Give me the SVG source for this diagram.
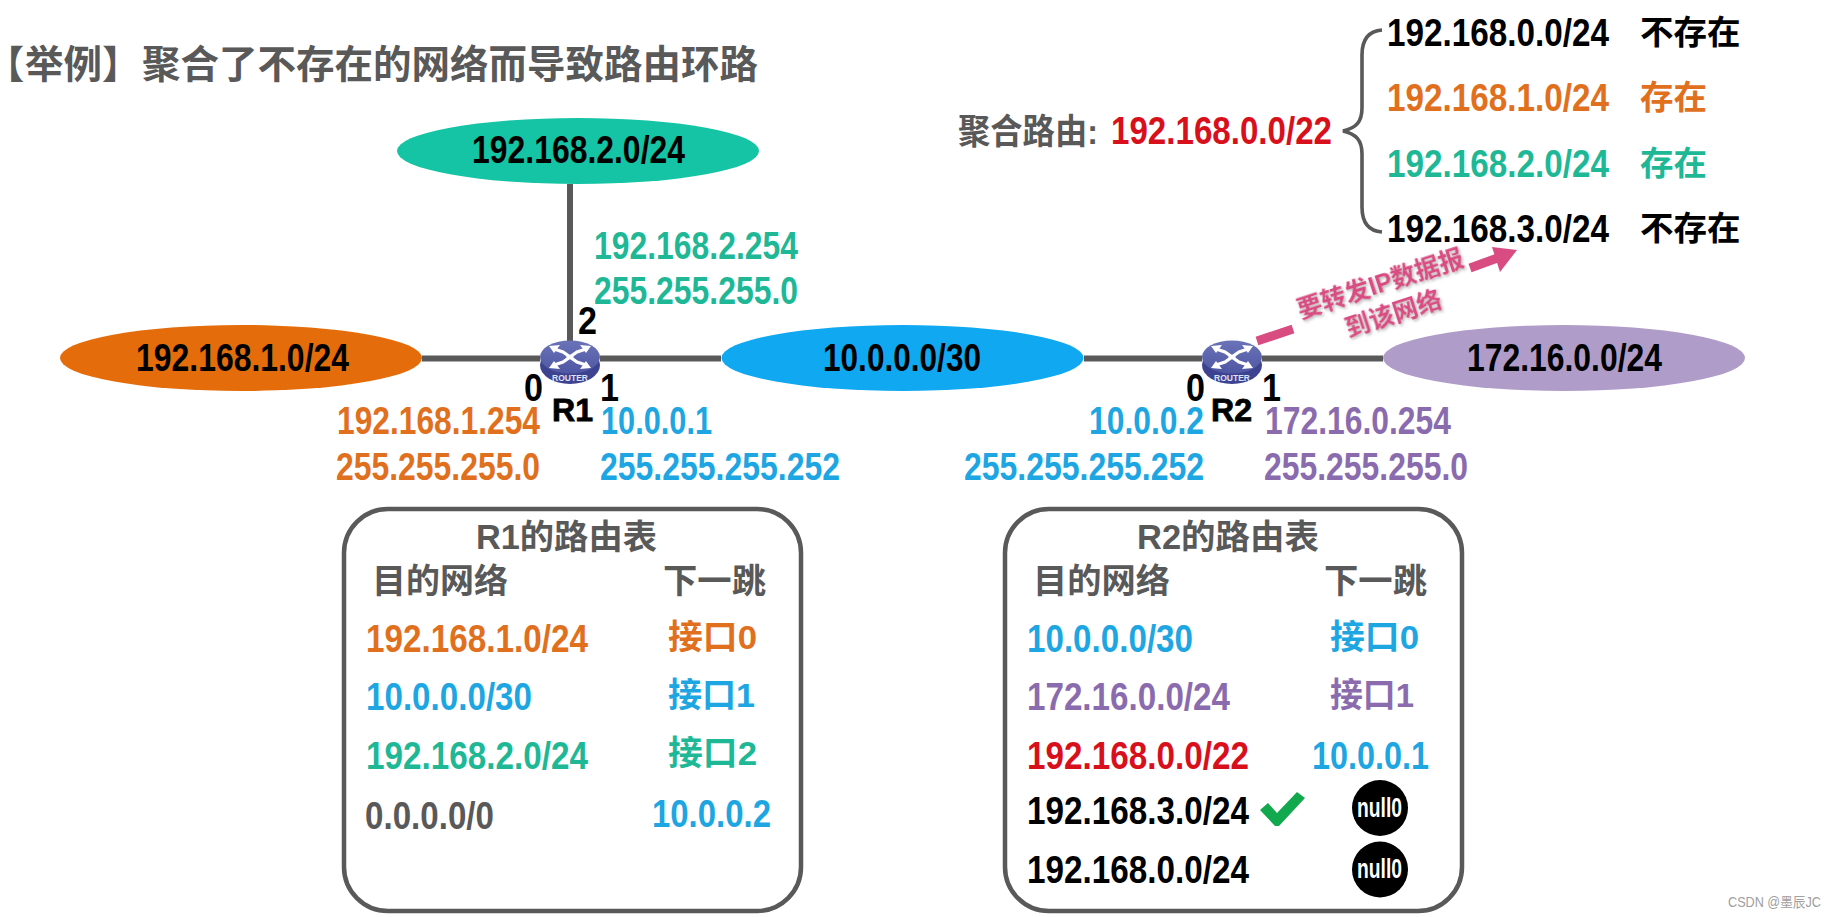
<svg xmlns="http://www.w3.org/2000/svg" width="1837" height="917" viewBox="0 0 1837 917">
<style>
text{font-family:"Liberation Sans","Noto Sans CJK SC",sans-serif;font-weight:700}
.ip{font-size:38.5px}
.cjk{font-size:33.5px}
.tt{font-size:34px}
.port{font-size:39px;fill:#000}
.rn{font-size:31px;fill:#000;stroke:#000;stroke-width:.8}
.k{fill:#000}.g{fill:#595959}.o{fill:#e0701e}.b{fill:#1ea6e2}.t{fill:#1fb896}.p{fill:#8a6cae}.r{fill:#d8101c}
.link{stroke:#595959;stroke-width:6;fill:none}
.box{fill:#fff;stroke:#595959;stroke-width:4.5}
.nul{fill:#fff;font-size:27px}
.arr{stroke:#fff;stroke-width:3.2;fill:none}
.pink{fill:#d94c82;font-size:25px;filter:url(#sh)}
</style>
<defs>
<linearGradient id="rg" x1="0" y1="0" x2="0" y2="1"><stop offset="0" stop-color="#6a72b8"/><stop offset="1" stop-color="#4f57a3"/></linearGradient>
<filter id="sh" x="-10%" y="-20%" width="120%" height="150%"><feDropShadow dx="1" dy="2" stdDeviation="1.5" flood-color="#999" flood-opacity=".7"/></filter>
<g id="arrowhead"><polygon points="-21,-11 -10,-12 -16,-4" fill="#fff"/><path class="arr" d="M-16,-8 L-7,-5 L3,2"/></g>
<g id="router">
<ellipse cx="0" cy="8" rx="30" ry="19" fill="#3d4390"/>
<ellipse cx="0" cy="0" rx="30" ry="16.5" fill="url(#rg)"/>
<use href="#arrowhead"/>
<use href="#arrowhead" transform="scale(-1,1)"/>
<use href="#arrowhead" transform="scale(1,-1)"/>
<use href="#arrowhead" transform="scale(-1,-1)"/>
<text x="0" y="24" text-anchor="middle" fill="#dfe2f4" font-size="8.5">ROUTER</text>
</g>
</defs>
<rect width="1837" height="917" fill="#fff"/>

<text id="title" y="78" font-size="38.5" class="g"><tspan x="4" style="font-feature-settings:'palt'">【</tspan><tspan x="25">举例】</tspan><tspan x="142">聚合了不存在的网络而导致路由环路</tspan></text>

<g id="connectors">
<path class="link" d="M422,358.5H540M600,358.5H721M1084,358.5H1202M1262,358.5H1383M570,184V345"/>
<path d="M1257,341L1293,329" stroke="#d94c82" stroke-width="9" fill="none"/>
<path d="M1470,268L1503,256" stroke="#d94c82" stroke-width="9" fill="none"/>
<polygon points="1492,247 1517,250 1500,272" fill="#d94c82"/>
<path id="brace" d="M1382,30C1368,31 1362,40 1362,55V108C1362,122 1356,128 1343,131C1356,134 1362,140 1362,154V207C1362,222 1368,231 1382,232" fill="none" stroke="#595959" stroke-width="3.6"/>
</g>

<g id="net-192-168-2"><ellipse cx="578" cy="151" rx="181" ry="33" fill="#14c4a4"/><text class="ip k" x="472" y="163" textLength="213" lengthAdjust="spacingAndGlyphs">192.168.2.0/24</text></g>
<g id="net-192-168-1"><ellipse cx="241" cy="358" rx="181" ry="33" fill="#e46c0a"/><text class="ip k" x="136" y="371" textLength="213" lengthAdjust="spacingAndGlyphs">192.168.1.0/24</text></g>
<g id="net-10-0-0"><ellipse cx="902.5" cy="358" rx="181" ry="33" fill="#10a8f0"/><text class="ip k" x="823" y="371" textLength="158" lengthAdjust="spacingAndGlyphs">10.0.0.0/30</text></g>
<g id="net-172-16-0"><ellipse cx="1564" cy="358" rx="181" ry="33" fill="#b09cc8"/><text class="ip k" x="1467" y="371" textLength="195" lengthAdjust="spacingAndGlyphs">172.16.0.0/24</text></g>

<g id="R1"><use href="#router" x="570" y="357"/>
<text class="port" x="578" y="334" textLength="19" lengthAdjust="spacingAndGlyphs">2</text>
<text class="port" x="524" y="401" textLength="19" lengthAdjust="spacingAndGlyphs">0</text>
<text class="port" x="600" y="401" textLength="19" lengthAdjust="spacingAndGlyphs">1</text>
<text class="rn" x="552" y="421" textLength="41" lengthAdjust="spacingAndGlyphs">R1</text></g>

<g id="R2"><use href="#router" x="1232" y="357"/>
<text class="port" x="1186" y="401" textLength="19" lengthAdjust="spacingAndGlyphs">0</text>
<text class="port" x="1262" y="401" textLength="19" lengthAdjust="spacingAndGlyphs">1</text>
<text class="rn" x="1211" y="421" textLength="41" lengthAdjust="spacingAndGlyphs">R2</text></g>

<g id="if-labels">
<text class="ip t" x="594" y="259" textLength="204" lengthAdjust="spacingAndGlyphs">192.168.2.254</text>
<text class="ip t" x="594" y="304" textLength="204" lengthAdjust="spacingAndGlyphs">255.255.255.0</text>
<text class="ip o" x="337" y="434" textLength="203" lengthAdjust="spacingAndGlyphs">192.168.1.254</text>
<text class="ip o" x="336" y="480" textLength="204" lengthAdjust="spacingAndGlyphs">255.255.255.0</text>
<text class="ip b" x="601" y="434" textLength="111" lengthAdjust="spacingAndGlyphs">10.0.0.1</text>
<text class="ip b" x="600" y="480" textLength="240" lengthAdjust="spacingAndGlyphs">255.255.255.252</text>
<text class="ip b" x="1089" y="434" textLength="115" lengthAdjust="spacingAndGlyphs">10.0.0.2</text>
<text class="ip b" x="964" y="480" textLength="240" lengthAdjust="spacingAndGlyphs">255.255.255.252</text>
<text class="ip p" x="1265" y="434" textLength="186" lengthAdjust="spacingAndGlyphs">172.16.0.254</text>
<text class="ip p" x="1264" y="480" textLength="204" lengthAdjust="spacingAndGlyphs">255.255.255.0</text>
</g>

<g id="aggregate">
<text class="g" x="958" y="144" font-size="35" textLength="140" lengthAdjust="spacingAndGlyphs">聚合路由:</text>
<text class="ip r" x="1111" y="144" textLength="221" lengthAdjust="spacingAndGlyphs">192.168.0.0/22</text>
<text class="ip k" x="1387" y="46" textLength="222" lengthAdjust="spacingAndGlyphs">192.168.0.0/24</text>
<text class="cjk k" x="1640" y="44">不存在</text>
<text class="ip o" x="1387" y="111" textLength="222" lengthAdjust="spacingAndGlyphs">192.168.1.0/24</text>
<text class="cjk o" x="1640" y="109">存在</text>
<text class="ip t" x="1387" y="177" textLength="222" lengthAdjust="spacingAndGlyphs">192.168.2.0/24</text>
<text class="cjk t" x="1640" y="175">存在</text>
<text class="ip k" x="1387" y="242" textLength="222" lengthAdjust="spacingAndGlyphs">192.168.3.0/24</text>
<text class="cjk k" x="1640" y="240">不存在</text>
</g>

<g id="callout">
<text class="pink" text-anchor="middle" transform="translate(1383,292) rotate(-18)">要转发IP数据报</text>
<text class="pink" text-anchor="middle" transform="translate(1396,322) rotate(-18)">到该网络</text>
</g>

<g id="table-R1">
<rect class="box" x="344" y="509" width="457" height="402" rx="44"/>
<text class="g" x="476" y="549" font-size="34.5" textLength="181" lengthAdjust="spacingAndGlyphs">R1的路由表</text>
<text class="tt g" x="372" y="593" textLength="136" lengthAdjust="spacingAndGlyphs">目的网络</text>
<text class="tt g" x="663" y="593" textLength="103" lengthAdjust="spacingAndGlyphs">下一跳</text>
<text class="ip o" x="366" y="652" textLength="222" lengthAdjust="spacingAndGlyphs">192.168.1.0/24</text>
<text class="tt o" x="668" y="649" textLength="89" lengthAdjust="spacingAndGlyphs">接口0</text>
<text class="ip b" x="366" y="710" textLength="166" lengthAdjust="spacingAndGlyphs">10.0.0.0/30</text>
<text class="tt b" x="668" y="707" textLength="87" lengthAdjust="spacingAndGlyphs">接口1</text>
<text class="ip t" x="366" y="769" textLength="222" lengthAdjust="spacingAndGlyphs">192.168.2.0/24</text>
<text class="tt t" x="668" y="765" textLength="89" lengthAdjust="spacingAndGlyphs">接口2</text>
<text class="ip g" x="365" y="829" textLength="129" lengthAdjust="spacingAndGlyphs">0.0.0.0/0</text>
<text class="ip b" x="652" y="827" textLength="119" lengthAdjust="spacingAndGlyphs">10.0.0.2</text>
</g>

<g id="table-R2">
<rect class="box" x="1005" y="509" width="457" height="402" rx="44"/>
<text class="g" x="1137" y="549" font-size="34.5" textLength="182" lengthAdjust="spacingAndGlyphs">R2的路由表</text>
<text class="tt g" x="1033" y="593" textLength="137" lengthAdjust="spacingAndGlyphs">目的网络</text>
<text class="tt g" x="1324" y="593" textLength="103" lengthAdjust="spacingAndGlyphs">下一跳</text>
<text class="ip b" x="1027" y="652" textLength="166" lengthAdjust="spacingAndGlyphs">10.0.0.0/30</text>
<text class="tt b" x="1330" y="649" textLength="89" lengthAdjust="spacingAndGlyphs">接口0</text>
<text class="ip p" x="1027" y="710" textLength="203" lengthAdjust="spacingAndGlyphs">172.16.0.0/24</text>
<text class="tt p" x="1330" y="707" textLength="84" lengthAdjust="spacingAndGlyphs">接口1</text>
<text class="ip r" x="1027" y="769" textLength="222" lengthAdjust="spacingAndGlyphs">192.168.0.0/22</text>
<text class="ip b" x="1312" y="769" textLength="117" lengthAdjust="spacingAndGlyphs">10.0.0.1</text>
<text class="ip k" x="1027" y="824" textLength="222" lengthAdjust="spacingAndGlyphs">192.168.3.0/24</text>
<polygon points="1260,810 1268,803 1277,813 1297,792 1305,798 1279,826 1275,826" fill="#12a84e"/>
<circle cx="1380" cy="808" r="28" fill="#000"/>
<text class="nul" x="1357" y="817" textLength="45" lengthAdjust="spacingAndGlyphs">null0</text>
<text class="ip k" x="1027" y="883" textLength="222" lengthAdjust="spacingAndGlyphs">192.168.0.0/24</text>
<circle cx="1380" cy="869.5" r="28" fill="#000"/>
<text class="nul" x="1357" y="878" textLength="45" lengthAdjust="spacingAndGlyphs">null0</text>
</g>

<text id="watermark" x="1728" y="907" font-size="14" fill="#a0a0a0" style="font-weight:400" textLength="93" lengthAdjust="spacingAndGlyphs">CSDN @墨辰JC</text>
</svg>
